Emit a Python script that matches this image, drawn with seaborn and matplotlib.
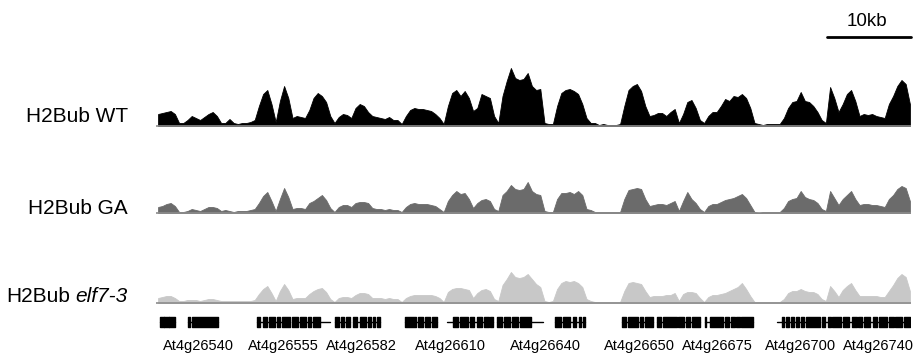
import matplotlib
matplotlib.use('Agg')
import matplotlib.pyplot as plt
import seaborn as sns
import numpy as np
import pandas as pd

# coverage in 0.5 kb bins across the ~90 kb window
bin_kb = 0.5
wt = [12, 13, 14, 15, 12, 3, 3, 6, 10, 8,
      6, 9, 12, 14, 10, 3, 3, 7, 3, 2,
      3, 3, 4, 6, 20, 32, 36, 22, 4, 25,
      40, 28, 8, 10, 9, 8, 16, 28, 33, 30,
      24, 10, 3, 9, 12, 11, 8, 18, 22, 20,
      14, 10, 9, 8, 7, 9, 6, 6, 2, 10,
      16, 18, 17, 17, 16, 15, 12, 8, 2, 20,
      33, 36, 30, 35, 28, 15, 18, 32, 30, 28,
      10, 3, 30, 45, 58, 48, 46, 47, 53, 40,
      36, 37, 3, 2, 2, 20, 33, 36, 37, 35,
      32, 22, 8, 3, 3, 1, 2, 1, 1, 1,
      2, 20, 36, 40, 42, 35, 20, 10, 11, 13,
      13, 10, 14, 17, 3, 12, 24, 26, 18, 6,
      3, 10, 14, 14, 20, 27, 25, 30, 29, 32,
      28, 18, 3, 2, 1, 2, 2, 2, 2, 8,
      18, 24, 25, 34, 25, 24, 20, 14, 6, 3,
      39, 28, 14, 22, 32, 36, 25, 10, 12, 11,
      12, 10, 9, 8, 22, 30, 40, 46, 42, 22]
ga = [6, 7, 9, 10, 7, 1, 1, 2, 4, 3,
      2, 4, 6, 6, 5, 2, 3, 2, 1, 2,
      2, 2, 3, 4, 10, 17, 21, 12, 2, 14,
      25, 16, 4, 5, 5, 4, 10, 12, 15, 18,
      13, 5, 1, 6, 8, 8, 6, 10, 11, 11,
      10, 5, 4, 4, 3, 4, 3, 3, 1, 6,
      9, 10, 9, 9, 9, 8, 7, 4, 1, 12,
      18, 22, 19, 20, 14, 5, 10, 13, 14, 12,
      4, 2, 18, 22, 28, 24, 23, 24, 31, 22,
      19, 18, 2, 1, 1, 14, 20, 20, 21, 19,
      22, 18, 4, 3, 1, 1, 1, 1, 1, 1,
      1, 14, 23, 24, 25, 24, 14, 7, 8, 9,
      9, 8, 10, 12, 2, 12, 21, 14, 10, 4,
      1, 7, 9, 9, 11, 13, 14, 15, 17, 19,
      15, 8, 1, 0, 1, 1, 1, 1, 1, 5,
      12, 14, 15, 22, 16, 14, 13, 10, 4, 2,
      22, 15, 8, 14, 18, 22, 14, 8, 9, 9,
      8, 8, 7, 6, 14, 18, 24, 27, 25, 12]
elf7 = [5, 6, 7, 7, 5, 2, 2, 3, 3, 3,
        2, 3, 4, 4, 3, 2, 2, 2, 2, 2,
        2, 2, 2, 3, 9, 14, 17, 10, 2, 12,
        19, 13, 4, 5, 5, 5, 9, 12, 14, 15,
        11, 4, 1, 5, 6, 6, 5, 8, 10, 10,
        9, 5, 5, 5, 4, 5, 4, 4, 1, 5,
        7, 8, 8, 8, 8, 8, 7, 5, 1, 11,
        14, 15, 15, 14, 13, 5, 10, 13, 14, 12,
        4, 2, 18, 24, 31, 26, 25, 26, 29, 24,
        19, 16, 2, 1, 2, 14, 20, 22, 21, 22,
        20, 16, 4, 2, 1, 1, 1, 1, 1, 1,
        1, 12, 20, 21, 20, 19, 12, 6, 7, 7,
        7, 8, 8, 10, 2, 9, 11, 11, 10, 5,
        1, 6, 8, 8, 9, 10, 12, 14, 16, 20,
        14, 7, 1, 1, 1, 1, 1, 1, 1, 4,
        10, 12, 12, 14, 12, 11, 11, 9, 4, 2,
        17, 12, 6, 13, 17, 20, 13, 7, 7, 7,
        7, 7, 6, 6, 12, 18, 25, 29, 26, 12]

track_labels = ['H2Bub WT', 'H2Bub GA', 'H2Bub']
track_italic = ['', '', 'elf7-3']
track_colors = ['#000000', '#6b6b6b', '#c8c8c8']

# gene models: span (kb) and exon blocks (kb)
gene_spans = [(0.5, 2.3), (3.8, 7.4), (12.0, 16.0), (16.2, 20.7), (21.3, 23.1),
              (23.5, 26.7), (29.6, 33.5), (34.6, 40.1), (40.6, 46.1), (47.5, 51.1),
              (55.5, 59.2), (59.6, 64.8), (65.4, 71.1), (73.9, 79.0), (79.3, 83.5),
              (83.6, 89.8)]
gene_exons = [
    [(0.5, 0.9), (1.0, 1.5), (1.6, 2.3)],
    [(3.8, 4.1), (4.3, 7.4)],
    [(12.0, 12.4), (12.7, 13.2), (13.5, 14.2), (14.4, 14.8), (15.0, 16.0)],
    [(16.2, 16.9), (17.1, 17.9), (18.1, 18.5), (18.7, 19.5)],
    [(21.3, 21.8), (22.0, 22.4), (22.6, 23.1)],
    [(23.5, 23.9), (24.3, 25.0), (25.2, 25.6), (25.8, 26.1), (26.3, 26.7)],
    [(29.6, 31.0), (31.2, 31.8), (32.0, 32.6), (32.8, 33.5)],
    [(35.3, 36.0), (36.2, 37.2), (37.4, 37.9), (38.2, 38.8), (39.1, 39.6), (39.8, 40.1)],
    [(40.6, 41.2), (41.4, 42.2), (42.4, 43.1), (43.3, 44.7)],
    [(47.5, 48.2), (48.5, 49.3), (49.6, 50.0), (50.3, 50.6), (50.8, 51.1)],
    [(55.5, 56.0), (56.2, 57.4), (57.6, 58.0), (58.2, 59.2)],
    [(59.6, 60.1), (60.3, 62.0), (62.2, 62.8), (63.1, 63.6), (63.8, 64.8)],
    [(65.4, 65.5), (65.9, 67.5), (67.7, 68.2), (68.4, 68.9), (69.1, 69.5), (69.7, 71.1)],
    [(74.5, 74.8), (75.0, 75.4), (75.6, 76.0), (76.2, 76.6), (76.8, 77.2), (77.4, 79.0)],
    [(79.3, 79.6), (80.0, 80.3), (80.5, 81.6), (81.8, 82.5), (82.8, 83.5)],
    [(83.6, 84.1), (84.3, 85.0), (85.3, 85.8), (86.1, 87.0), (87.3, 87.8), (88.0, 88.8), (89.0, 89.8)],
]
gene_names = ['At4g26540', 'At4g26555', 'At4g26582', 'At4g26610', 'At4g26640',
              'At4g26650', 'At4g26675', 'At4g26700', 'At4g26740']
gene_label_kb = [5.0, 15.2, 24.5, 35.0, 46.4, 57.5, 66.8, 76.7, 86.0]

scale_kb = 10

sns.set_style('white')
plt.rcParams['font.family'] = ['Liberation Sans', 'DejaVu Sans']
plt.rcParams['text.color'] = 'black'

W, H = 913, 355
fig = plt.figure(figsize=(W / 100, H / 100), dpi=100)


def px_axes(left, top, right, bottom):
    ax = fig.add_axes([left / W, 1 - bottom / H, (right - left) / W, (bottom - top) / H])
    ax.set_axis_off()
    return ax


x_max = (911 - 156) / 8.4
centers = np.arange(len(wt)) * bin_kb + bin_kb / 2

track_boxes = [(63, 127), (150, 214), (240, 304)]
label_y = [117, 208, 297]
for vals, color, (top, bot) in zip([wt, ga, elf7], track_colors, track_boxes):
    ax = px_axes(156, top, 911, bot)
    df = pd.DataFrame({'pos': centers, 'cov': vals})
    sns.histplot(data=df, x='pos', weights='cov', binwidth=bin_kb,
                 binrange=(0, len(wt) * bin_kb), element='poly', fill=True,
                 color=color, alpha=1, linewidth=0.6, edgecolor=color, ax=ax)
    ax.axhline(-0.4, color='#8c8c8c', lw=1.2)
    ax.set_xlim(0, x_max)
    ax.set_ylim(-1, bot - top - 1)
    ax.set_axis_off()

# track labels
fig.canvas.draw()
rend = fig.canvas.get_renderer()
for lab, ital, y in zip(track_labels, track_italic, label_y):
    if ital:
        t = fig.text(128 / W, 1 - y / H, ital, fontsize=15, style='italic',
                     ha='right', va='center')
        bb = t.get_window_extent(rend)
        fig.text((bb.x0 - 6) / W, 1 - y / H, lab, fontsize=15, ha='right', va='center')
    else:
        fig.text(128 / W, 1 - y / H, lab, fontsize=15, ha='right', va='center')

# gene models
gax = px_axes(156, 311, 911, 333)
gax.set_xlim(0, x_max)
gax.set_ylim(0, 1)
for (s, e), exons in zip(gene_spans, gene_exons):
    gax.plot([s, e], [0.5, 0.5], color='black', lw=1)
    gax.broken_barh([(a, b - a) for a, b in exons], (0.27, 0.46), color='black')
for name, xk in zip(gene_names, gene_label_kb):
    gax.text(xk, (333 - 350) / 22, name, fontsize=10.5, ha='center', va='baseline',
             transform=gax.get_xaxis_transform())

# scale bar
sax = px_axes(156, 0, 911, 60)
sax.set_xlim(0, x_max)
sax.set_ylim(60, 0)
sax.plot([x_max - scale_kb, x_max], [37, 37], color='black', lw=2, clip_on=False)
sax.text(x_max - scale_kb / 2 - 0.2, 21, f'{scale_kb}kb', fontsize=13.5, ha='center', va='center')

fig.savefig('out.png', dpi=100)
